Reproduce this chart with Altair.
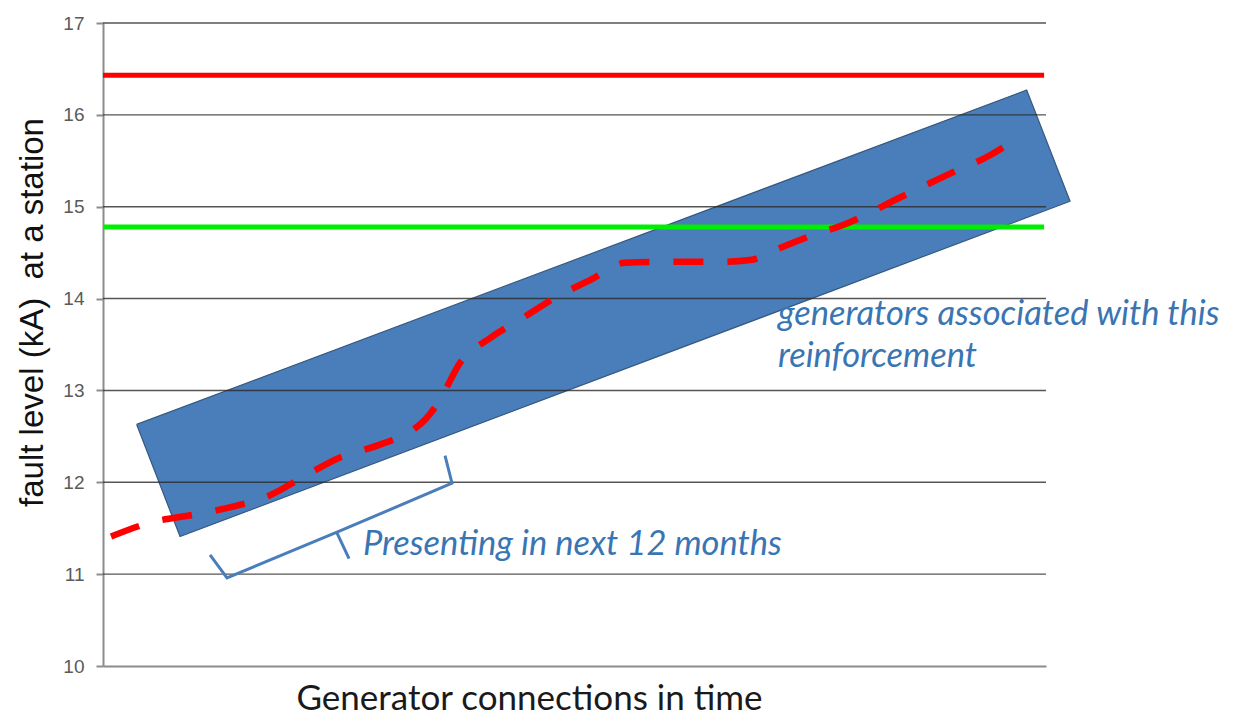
import altair as alt
import pandas as pd

# --- data ---
y_ticks = [10, 11, 12, 13, 14, 15, 16, 17]
grid_levels = [11, 12, 13, 14, 15, 16, 17]

red_limit = 16.43
green_limit = 14.78

band_x = [3.57, 97.95, 102.55, 8.17, 3.57]
band_y = [12.63, 16.27, 15.06, 11.41, 12.63]

curve_x = [0.85, 4.98, 9.76, 14.0, 17.71, 21.42, 25.13, 29.37, 32.56, 34.15, 35.74,
           37.86, 41.04, 44.22, 48.46, 51.64, 55.36, 59.07, 65.43, 68.61, 71.79,
           74.44, 78.69, 84.52, 89.82, 94.06, 97.24]
curve_y = [11.41, 11.56, 11.65, 11.74, 11.86, 12.07, 12.27, 12.41, 12.55, 12.68, 12.90,
           13.30, 13.57, 13.77, 14.04, 14.20, 14.39, 14.40, 14.40, 14.42, 14.55,
           14.66, 14.81, 15.10, 15.36, 15.56, 15.77]

brace_x = [11.35, 13.15, 25.13, 37.01, 36.27, 24.81, 26.09]
brace_y = [11.21, 10.96, 11.47, 11.99, 12.29, 11.45, 11.17]
brace_part = ["main", "main", "main", "main", "main", "spike", "spike"]

notes = ["Presenting in next 12 months", "generators associated with this", "reinforcement"]
note_x = [27.57, 71.58, 71.58]
note_y = [11.21, 13.71, 13.25]

BLUE_TEXT = "#3a75b3"

xs = alt.Scale(domain=[0, 100], nice=False, zero=False)
ys = alt.Scale(domain=[10, 17], nice=False, zero=False)

band_df = pd.DataFrame({"x": band_x, "y": band_y, "o": list(range(len(band_x)))})
curve_df = pd.DataFrame({"x": curve_x, "y": curve_y})
brace_df = pd.DataFrame({"x": brace_x, "y": brace_y, "part": brace_part,
                         "o": list(range(len(brace_x)))})
grid_df = pd.DataFrame({"y": grid_levels, "x": [0] * len(grid_levels), "x2": [100] * len(grid_levels)})
lim_df = pd.DataFrame({"y": [red_limit, green_limit], "c": ["#ff0000", "#00ee00"],
                       "x": [0, 0], "x2": [99.8, 99.8]})
note_df = pd.DataFrame({"t": notes, "x": note_x, "y": note_y})

x_enc = alt.X("x:Q", scale=xs,
              axis=alt.Axis(title="Generator connections in time", labels=False, ticks=False,
                            grid=False, domainColor="#8c8c8c", domainWidth=2,
                            titleFont="Lato", titleFontSize=35, titleFontWeight="normal",
                            titleColor="#1a1a1a", titleX=426, titleY=43,
                            titleBaseline="alphabetic", titleAlign="center"))
y_enc = alt.Y("y:Q", scale=ys,
              axis=alt.Axis(title="fault level (kA)\u00a0 at a station", values=y_ticks, grid=False,
                            format="d",
                            tickColor="#8c8c8c", tickSize=7, tickWidth=2,
                            domainColor="#8c8c8c", domainWidth=2,
                            labelFont="Liberation Sans", labelFontSize=19, labelColor="#5a5a5a",
                            labelPadding=12,
                            titleFont="Liberation Sans", titleFontSize=33, titleFontWeight="normal",
                            titleColor="#111111", titleX=-61, titleY=289, titleAngle=270,
                            titleBaseline="alphabetic", titleAlign="center"))

band = alt.Chart(band_df).mark_line(fill="#4a7ebb", stroke="#35597f", strokeWidth=1.2).encode(
    x=x_enc, y=y_enc, order="o:Q")

grid = alt.Chart(grid_df).mark_rule(color="#2a2a2a", strokeWidth=1.4, opacity=0.8).encode(
    x="x:Q", x2="x2:Q", y="y:Q")

limits = alt.Chart(lim_df).mark_rule(strokeWidth=5).encode(
    x="x:Q", x2="x2:Q", y="y:Q", color=alt.Color("c:N", scale=None))

curve = alt.Chart(curve_df).mark_line(color="#ff0000", strokeWidth=6.5, strokeDash=[30, 24],
                                      interpolate="monotone").encode(x="x:Q", y="y:Q")

brace = alt.Chart(brace_df).mark_line(color="#4a7ebb", strokeWidth=3).encode(
    x="x:Q", y="y:Q", detail="part:N", order="o:Q")

text = alt.Chart(note_df).mark_text(font="Lato", fontStyle="italic", fontSize=34.5,
                                    color=BLUE_TEXT, align="left", baseline="alphabetic").encode(
    x="x:Q", y="y:Q", text="t:N")

chart = alt.layer(band, grid, limits, curve, brace, text).properties(
    width=943, height=643,
    autosize=alt.AutoSizeParams(type="none"),
    padding={"left": 95, "top": 15, "right": 182, "bottom": 49},
    background="white",
).configure_view(stroke=None)

chart.save("out.html", embed_options={"renderer": "svg", "actions": False})
